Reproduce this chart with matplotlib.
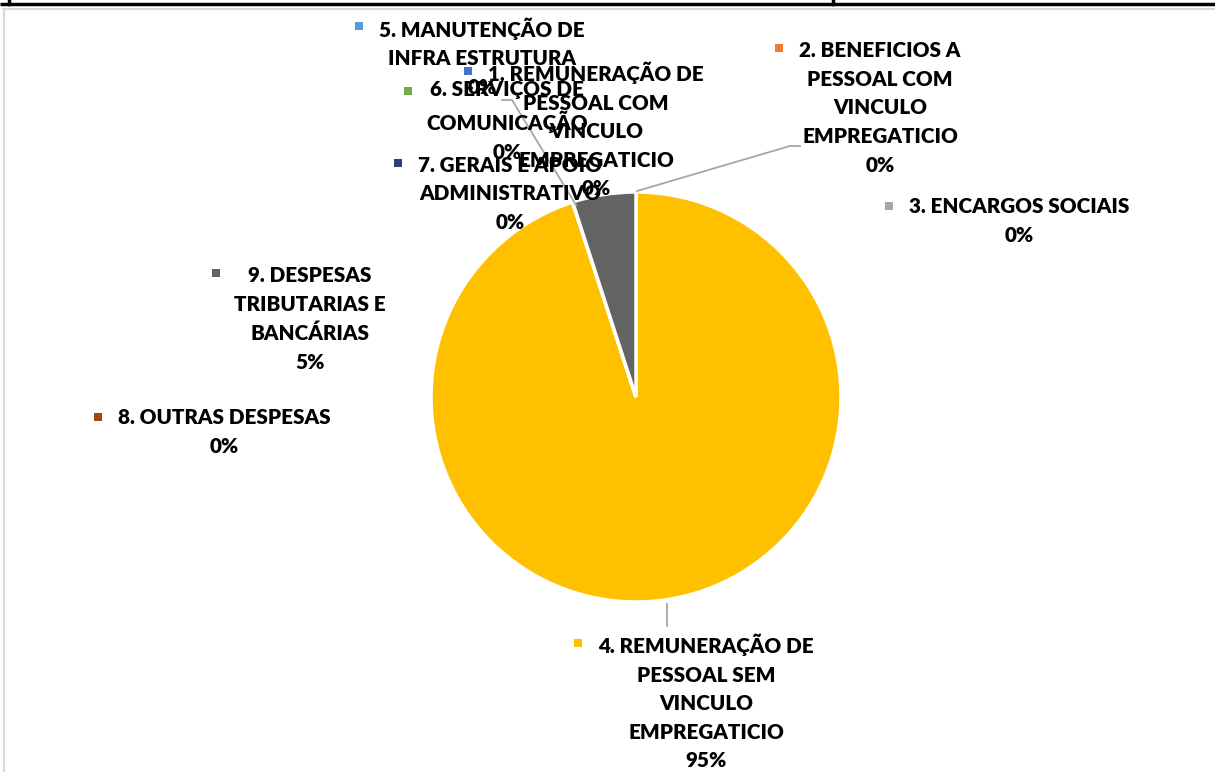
import matplotlib.pyplot as plt

# data
categories = [
    '1. REMUNERAÇÃO DE\nPESSOAL COM\nVINCULO\nEMPREGATICIO',
    '2. BENEFICIOS A\nPESSOAL COM\nVINCULO\nEMPREGATICIO',
    '3. ENCARGOS SOCIAIS',
    '4. REMUNERAÇÃO DE\nPESSOAL SEM\nVINCULO\nEMPREGATICIO',
    '5. MANUTENÇÃO DE\nINFRA ESTRUTURA',
    '6. SERVIÇOS DE\nCOMUNICAÇÃO',
    '7. GERAIS E APOIO\nADMINISTRATIVO',
    '8. OUTRAS DESPESAS',
    '9. DESPESAS\nTRIBUTARIAS E\nBANCÁRIAS',
]
values = [0, 0, 0, 95, 0, 0, 0, 0, 5]
colors = ['#4472C4', '#ED7D31', '#A5A5A5', '#FFC000', '#5B9BD5',
          '#70AD47', '#264478', '#9E480E', '#636363']

# label layout in pixels: text centre x, centre y, marker x, marker y
lab_cx = [596, 880, 1019, 706, 482, 507, 510, 224, 310]
lab_cy = [130, 108, 221, 702, 57, 121, 194, 432, 319]
mk_x = [468, 779, 889, 578, 359, 408, 398, 98, 216]
mk_y = [71, 48, 206, 643, 26, 91, 163, 417, 273]

W, H = 1215, 772
fig = plt.figure(figsize=(W / 100, H / 100), dpi=100)
ax = fig.add_axes([0, 0, 1, 1])

ax.pie(values, colors=colors, center=(636, 397), radius=205,
       startangle=-90, counterclock=True, normalize=True,
       wedgeprops=dict(edgecolor='white', linewidth=2.5))
ax.set_xlim(0, W)
ax.set_ylim(H, 0)
ax.set_aspect('equal')
ax.axis('off')

total = sum(values)
for i, name in enumerate(categories):
    pct = f'{values[i] / total:.0%}'
    ax.text(lab_cx[i], lab_cy[i], name + '\n' + pct, ha='center', va='center',
            fontsize=14.9, fontweight='heavy', family='Lato', linespacing=1.6,
            color='#000000', zorder=5)
    ax.scatter([mk_x[i]], [mk_y[i]], marker='s', s=36, color=colors[i],
               linewidths=0, zorder=5)

# leader lines
lc = '#A6A6A6'
ax.plot([637, 790, 800], [191, 146, 146], color=lc, lw=1.3, zorder=4)
ax.plot([667, 667], [604, 626], color=lc, lw=1.3, zorder=4)
ax.plot([502, 512, 576], [100, 100, 205], color=lc, lw=1.3, zorder=4)

# frame pieces around the chart
ax.plot([0, W], [4, 4], color='black', lw=2.5, solid_capstyle='butt')
ax.plot([8.5, 8.5], [0, 4], color='black', lw=2.5)
ax.plot([833, 833], [0, 4], color='black', lw=2.5)
ax.plot([3, W], [8.5, 8.5], color='#D9D9D9', lw=1.5)
ax.plot([3.5, 3.5], [8.5, H], color='#D9D9D9', lw=1.5)

fig.savefig('out.png', dpi=100)
